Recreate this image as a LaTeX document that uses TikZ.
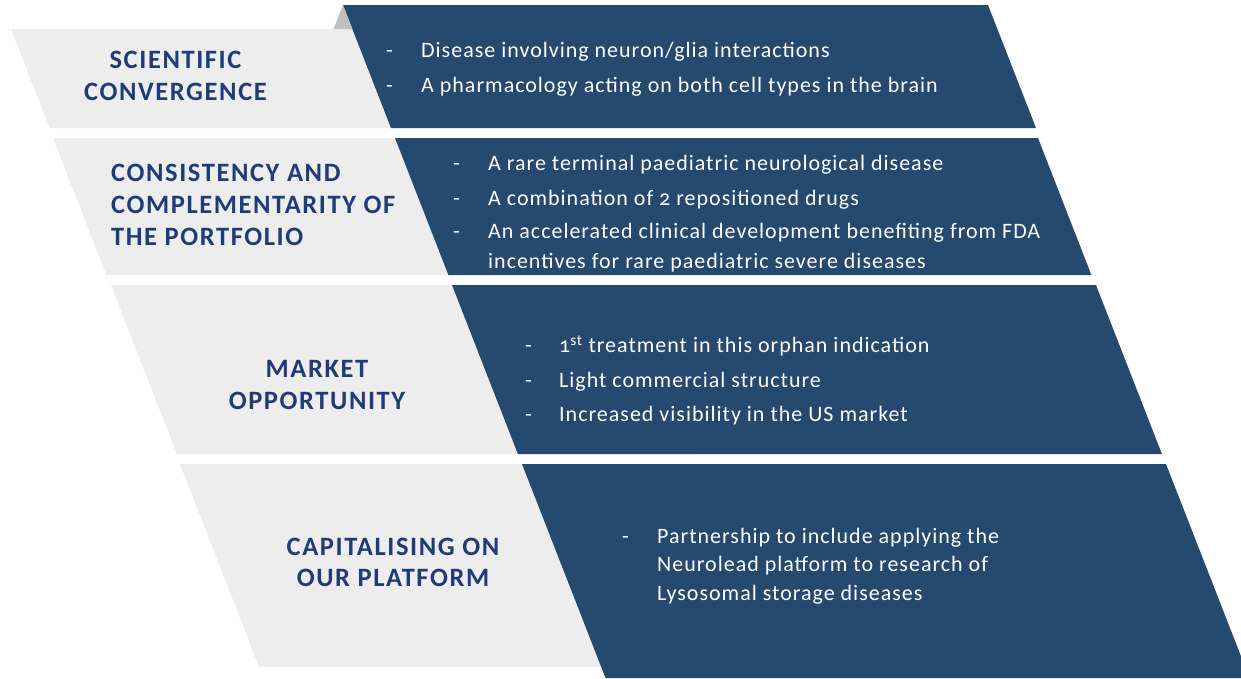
\documentclass[tikz,border=0pt]{standalone}
\usepackage{fontspec}
\setmainfont{Carlito}[Numbers=OldStyle]
\newfontfamily\headfont{Carlito}[Numbers=OldStyle,LetterSpace=6.0]
\newfontfamily\bulfont{Carlito}[Numbers=OldStyle,LetterSpace=4.5]
\definecolor{navy}{HTML}{25496F}
\definecolor{lightgrey}{HTML}{EDEDED}
\definecolor{foldgrey}{HTML}{BFBFBF}
\definecolor{headblue}{HTML}{203C78}
\begin{document}
\begin{tikzpicture}[x=1pt,y=-1pt,
  greypanel/.style={fill=lightgrey, draw=none},
  darkpanel/.style={fill=navy, draw=none},
  foldpanel/.style={fill=foldgrey, draw=none},
  headtext/.style={font=\headfont\fontsize{26.5}{30}\selectfont\bfseries, text=headblue, inner sep=0pt, anchor=base},
  headleft/.style={headtext, anchor=base west},
  bultext/.style={font=\bulfont\fontsize{22}{25}\selectfont, text=white, inner sep=0pt, anchor=base west},
]
\useasboundingbox (0,0) rectangle (1241,678);
\clip (0,0) rectangle (1241,678);

% Row 1
\fill[greypanel] (11,29) -- (500,29) -- (500,128) -- (49.6,128) -- cycle;
\fill[darkpanel] (343,5) -- (988,5) -- (1036,128) -- (391,128) -- cycle;
\fill[foldpanel] (343,5) -- (352.4,29) -- (333.6,29) -- cycle;
% Row 2
\fill[greypanel] (53,138) -- (600,138) -- (600,275) -- (106.4,275) -- cycle;
\fill[darkpanel] (395,138) -- (1038,138) -- (1091.4,275) -- (448.4,275) -- cycle;
% Row 3
\fill[greypanel] (111,285) -- (700,285) -- (700,454) -- (176.9,454) -- cycle;
\fill[darkpanel] (452,285) -- (1096,285) -- (1161.9,454) -- (517.9,454) -- cycle;
% Row 4
\fill[greypanel] (180,464) -- (700,464) -- (700,667) -- (259.2,667) -- cycle;
\fill[darkpanel] (522,464) -- (1166,464) -- (1249.5,678) -- (605.5,678) -- cycle;

% Headers
\node[headtext] (h1a) at (175.5,68.3) {SCIENTIFIC};
\node[headtext] (h1b) at (175.5,100) {CONVERGENCE};
\node[headleft] (h2a) at (111,181.7) {CONSISTENCY AND};
\node[headleft] (h2b) at (111,213.3) {COMPLEMENTARITY OF};
\node[headleft] (h2c) at (111,245) {THE PORTFOLIO};
\node[headtext] (h3a) at (317,377.7) {MARKET};
\node[headtext] (h3b) at (317,409.3) {OPPORTUNITY};
\node[headtext] (h4a) at (393,555) {CAPITALISING ON};
\node[headtext] (h4b) at (393,586.7) {OUR PLATFORM};

% Row 1 bullets
\node[bultext] (d1a) at (386,57) {-};
\node[bultext] (b1a) at (421,57) {Disease involving neuron/glia interactions};
\node[bultext] (d1b) at (386,92) {-};
\node[bultext] (b1b) at (421,92) {A pharmacology acting on both cell types in the brain};
% Row 2 bullets
\node[bultext] (d2a) at (453,170) {-};
\node[bultext] (b2a) at (488,170) {A rare terminal paediatric neurological disease};
\node[bultext] (d2b) at (453,205) {-};
\node[bultext] (b2b) at (488,205) {A combination of 2 repositioned drugs};
\node[bultext] (d2c) at (453,238) {-};
\node[bultext] (b2c) at (488,238) {An accelerated clinical development benefiting from FDA};
\node[bultext] (b2d) at (488,268) {incentives for rare paediatric severe diseases};
% Row 3 bullets
\node[bultext] (d3a) at (525,352.7) {-};
\node[bultext] (b3a) at (559,352.7) {1\textsuperscript{st} treatment in this orphan indication};
\node[bultext] (d3b) at (525,387.3) {-};
\node[bultext] (b3b) at (559,387.3) {Light commercial structure};
\node[bultext] (d3c) at (525,421.7) {-};
\node[bultext] (b3c) at (559,421.7) {Increased visibility in the US market};
% Row 4 bullets
\node[bultext] (d4a) at (622,543) {-};
\node[bultext] (b4a) at (657,543) {Partnership to include applying the};
\node[bultext] (b4b) at (657,571.7) {Neurolead platform to research of};
\node[bultext] (b4c) at (657,600.7) {Lysosomal storage diseases};
\end{tikzpicture}
\end{document}
